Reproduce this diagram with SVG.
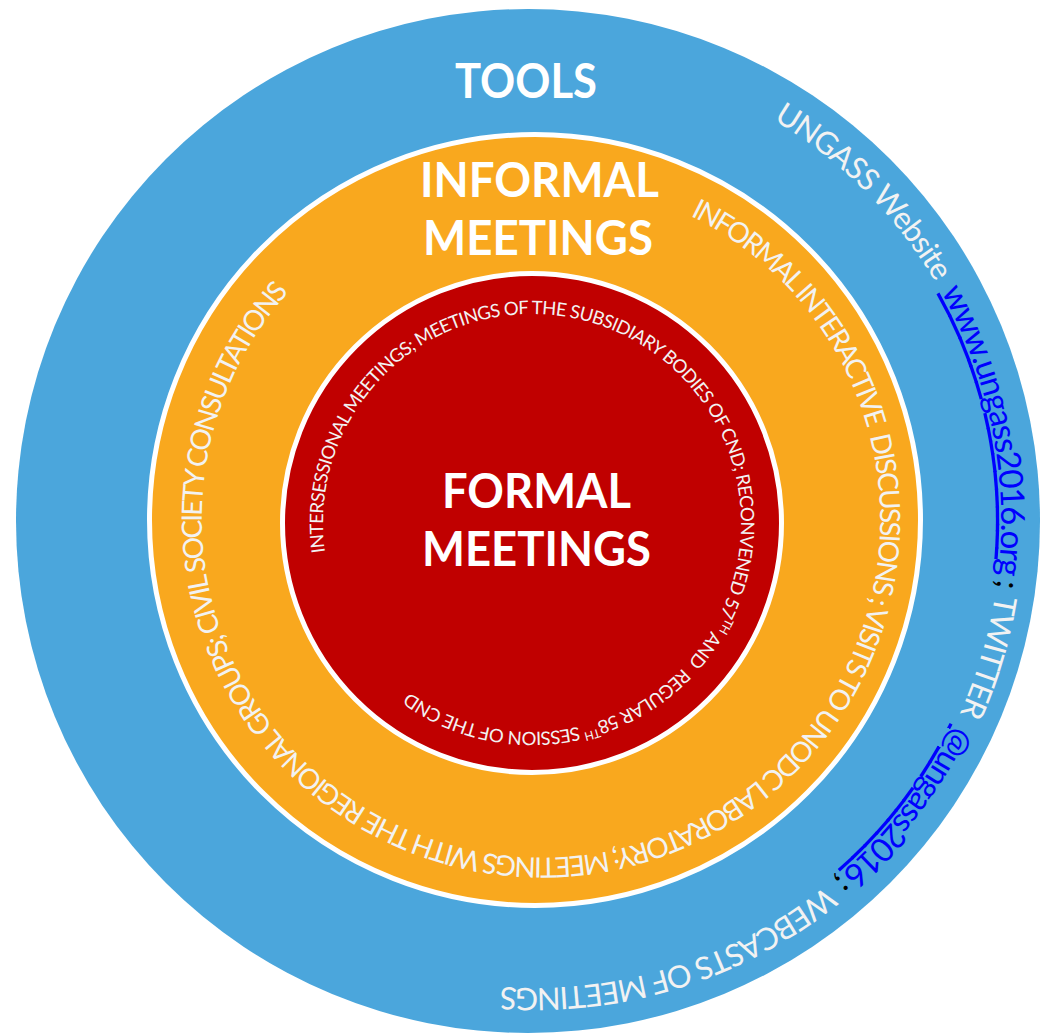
<svg xmlns="http://www.w3.org/2000/svg" width="1041" height="1036" viewBox="0 0 1041 1036">
<style>
.ring{font-family:Lato,"Open Sans","Liberation Sans",sans-serif;fill:#F2F2F2}
.bt{font-size:31px}
.lnk{font-size:33px;fill:#0000FF;text-decoration:underline}
.blk{font-size:33px;fill:#000000}
.ot{font-size:28px}
.rt{font-size:18.5px}
.sup{font-size:12px}
.title{font-family:Lato,"Open Sans","Liberation Sans",sans-serif;font-weight:bold;font-size:48px;fill:#FFFFFF;text-anchor:middle}
</style>
<defs>
<path id="pb" d="M534,54 A467,467 0 1 1 534,988 A467,467 0 1 1 534,54"/>
<path id="po" d="M690.23,215.73 A338,338 0 1 1 391.77,822.27 A338,338 0 1 1 690.23,215.73"/>
<path id="pr" d="M325.03,552.09 A209,209 0 1 1 738.97,493.91 A209,209 0 1 1 325.03,552.09"/>
</defs>
<g id="connectors"/>
<g id="tools">
<circle cx="528" cy="521" r="512" fill="#4BA6DC"/>
<text class="title" x="526" y="98" textLength="142" lengthAdjust="spacingAndGlyphs">TOOLS</text>
<text class="ring bt"><textPath href="#pb" startOffset="251" textLength="232">UNGASS Website</textPath></text>
<text class="ring lnk"><textPath href="#pb" startOffset="494" textLength="294">www.ungass2016.org</textPath></text>
<text class="ring blk"><textPath href="#pb" startOffset="792">;</textPath></text>
<text class="ring bt"><textPath href="#pb" startOffset="808" textLength="124">TWITTER</textPath></text>
<text class="ring lnk"><textPath href="#pb" startOffset="945" textLength="187">@ungass2016</textPath></text>
<text class="ring blk"><textPath href="#pb" startOffset="1134">;</textPath></text>
<text class="ring bt"><textPath href="#pb" startOffset="1152" textLength="349">WEBCASTS OF MEETINGS</textPath></text>
</g>
<g id="informal">
<circle cx="535" cy="520" r="385.5" fill="#F9A81E" stroke="#FFFFFF" stroke-width="5"/>
<text class="title" x="539.5" y="197" textLength="239" lengthAdjust="spacingAndGlyphs">INFORMAL</text>
<text class="title" x="538" y="255" textLength="230" lengthAdjust="spacingAndGlyphs">MEETINGS</text>
<text class="ring ot" xml:space="preserve"><textPath href="#po" startOffset="0" textLength="1690">INFORMAL INTERACTIVE  DISCUSSIONS ; VISITS TO UNODC LABORATORY; MEETINGS WITH THE REGIONAL GROUPS; CIVIL SOCIETY CONSULTATIONS</textPath></text>
</g>
<g id="formal">
<circle cx="532" cy="523" r="249.5" fill="#C00000" stroke="#FFFFFF" stroke-width="5"/>
<text class="title" x="536.5" y="508" textLength="189" lengthAdjust="spacingAndGlyphs">FORMAL</text>
<text class="title" x="536.5" y="566" textLength="229" lengthAdjust="spacingAndGlyphs">MEETINGS</text>
<text class="ring rt" xml:space="preserve"><textPath href="#pr" startOffset="0" textLength="1145">INTERSESSIONAL MEETINGS; MEETINGS OF THE SUBSIDIARY BODIES OF CND; RECONVENED 57<tspan class="sup" baseline-shift="super">TH</tspan> AND  REGULAR 58<tspan class="sup" baseline-shift="super">TH</tspan> SESSION OF THE CND</textPath></text>
</g>
</svg>
